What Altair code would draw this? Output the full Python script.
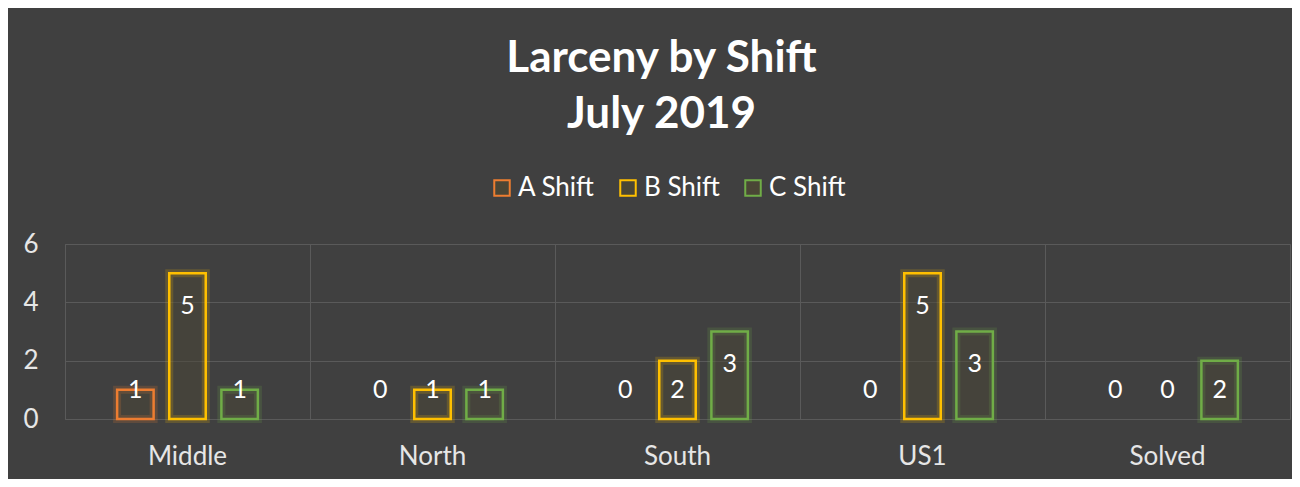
import altair as alt
import pandas as pd

categories = ["Middle", "North", "South", "US1", "Solved"]
shifts = ["A Shift", "B Shift", "C Shift"]
a_shift = [1, 0, 0, 0, 0]
b_shift = [5, 1, 2, 5, 0]
c_shift = [1, 1, 3, 3, 2]
colors = ["#ED7D31", "#FFC000", "#70AD47"]
y_ticks = [0, 2, 4, 6]

rows = []
for i, cat in enumerate(categories):
    for s, vals in zip(shifts, [a_shift, b_shift, c_shift]):
        rows.append({"region": cat, "shift": s, "count": vals[i]})
df = pd.DataFrame(rows)

FONT = "Lato"
GRID = "#5A5A5A"
BG = "#404040"

x = alt.X("region:N", sort=categories, title=None,
          scale=alt.Scale(paddingInner=0, paddingOuter=0),
          axis=alt.Axis(grid=True, bandPosition=0, domain=False, ticks=False, labelAngle=0,
                        labelFontSize=26, labelColor="#E6E6E6", labelPadding=24,
                        gridColor=GRID, labelFont=FONT))
xo = alt.XOffset("shift:N", sort=shifts,
                 scale=alt.Scale(paddingInner=0.3, paddingOuter=1))
y = alt.Y("count:Q", title=None, scale=alt.Scale(domain=[0, 6]),
          axis=alt.Axis(values=y_ticks, grid=True, gridColor=GRID, domain=False, ticks=False,
                        labelFontSize=26, labelColor="#E6E6E6", labelPadding=27, labelFont=FONT))

legend = alt.Legend(title=None, orient="none", direction="horizontal",
                    legendX=424, legendY=-69, labelFontSize=26,
                    labelColor="#FFFFFF", labelFont=FONT,
                    symbolType="square", symbolSize=240,
                    symbolStrokeWidth=2, symbolFillColor="transparent",
                    columnPadding=20, labelOffset=3)
stroke = alt.Stroke("shift:N", scale=alt.Scale(domain=shifts, range=colors), legend=legend)

base = alt.Chart(df)

glow = base.transform_filter("datum.count > 0").mark_bar(
    strokeWidth=8, strokeOpacity=0.18, fill="#4A4636", fillOpacity=0.5
).encode(
    x=x, xOffset=xo, y=y,
    stroke=stroke,
)

bars = base.transform_filter("datum.count > 0").mark_bar(
    strokeWidth=2.5, fillOpacity=0
).encode(
    x=x, xOffset=xo, y=y,
    stroke=stroke,
)

labels = base.transform_calculate(
    pos="max(datum.count - 1.13, 1)"
).mark_text(fontSize=25, color="#FFFFFF", font=FONT, baseline="middle").encode(
    x=x, xOffset=xo,
    y=alt.Y("pos:Q", scale=alt.Scale(domain=[0, 6])),
    text="count:Q",
)

chart = alt.layer(glow, bars, labels).properties(
    width=1225, height=175,
    title=alt.Title(["Larceny by Shift", "July 2019"], fontSize=44, fontWeight="bold",
                    color="#FFFFFF", font=FONT, lineHeight=56, anchor="middle", offset=38, dx=-16),
    background=BG,
    padding={"left": 57, "top": 236, "right": 2, "bottom": 60},
    autosize=alt.AutoSizeParams(type="none"),
).resolve_scale(stroke="shared").configure_view(stroke=GRID)

chart.save("out.html", embed_options={"renderer": "svg", "actions": False})
